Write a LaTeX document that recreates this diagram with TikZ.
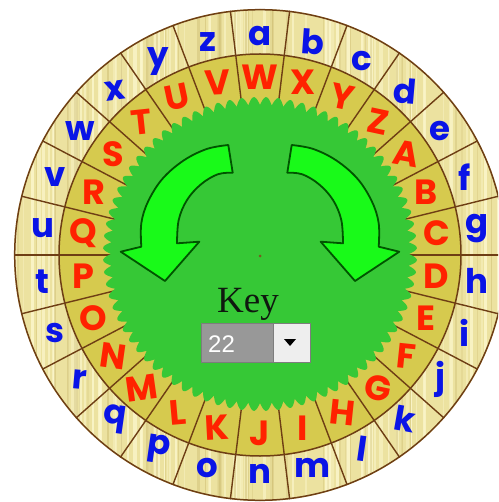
\documentclass[tikz,border=0pt]{standalone}
\usepackage{fontspec}
\setmainfont{Liberation Serif}
\newfontfamily\wheelfont{Poppins}
\newfontfamily\ddfont{Liberation Sans}
\definecolor{woodbase}{RGB}{236,226,160}
\definecolor{woodlight}{RGB}{252,247,205}
\definecolor{wooddark}{RGB}{200,182,105}
\definecolor{innerring}{RGB}{214,202,78}
\definecolor{divbrown}{RGB}{110,62,20}
\definecolor{centergreen}{RGB}{54,200,54}
\definecolor{arrowgreen}{RGB}{25,250,25}
\definecolor{arrowedge}{RGB}{0,85,0}
\definecolor{letterblue}{RGB}{10,20,230}
\definecolor{letterred}{RGB}{255,34,0}
\definecolor{ddgray}{RGB}{152,152,152}
\definecolor{ddlight}{RGB}{238,238,238}
\definecolor{ddedge}{RGB}{125,125,125}
\definecolor{keyink}{RGB}{15,25,15}
\definecolor{dotbrown}{RGB}{120,90,30}
\begin{document}
\begin{tikzpicture}[x=1pt,y=-1pt,
  divider/.style={draw=divbrown,line width=1.4pt},
  ringline/.style={draw=divbrown,line width=1.5pt},
  bigarrow/.style={fill=arrowgreen,draw=arrowedge,line width=1.8pt,line join=round},
  outerletter/.style={font=\wheelfont\bfseries\fontsize{34}{34}\selectfont,text=letterblue,inner sep=0pt},
  innerletter/.style={font=\wheelfont\bfseries\fontsize{35}{35}\selectfont,text=letterred,inner sep=0pt},
  keytext/.style={font=\fontsize{37}{37}\selectfont,text=keyink,inner sep=0pt},
  ddval/.style={fill=ddgray,draw=ddedge,line width=0.8pt,inner sep=0pt},
  ddbtn/.style={fill=ddlight,draw=ddedge,line width=0.8pt,inner sep=0pt},
  ddtext/.style={font=\ddfont\fontsize{24}{24}\selectfont,text=white,inner sep=0pt}]
\useasboundingbox (0,0) rectangle (498,502);
\clip (0,0) rectangle (498,502);
\fill[white] (0,0) rectangle (498,502);
% outer wooden ring
\begin{scope}
  \clip (260,255) circle[radius=246];
  \fill[woodbase] (0,0) rectangle (520,502);
  \pgfmathsetseed{7}
  \foreach \i in {0,...,80}{
    \pgfmathsetmacro\xx{14+rnd*492}
    \pgfmathsetmacro\oo{0.35+0.5*rnd}
    \pgfmathsetmacro\ww{1+3*rnd}
    \draw[woodlight,opacity=\oo,line width=\ww pt] (\xx,0) -- (\xx,502);
  }
  \foreach \i in {0,...,50}{
    \pgfmathsetmacro\xx{14+rnd*492}
    \pgfmathsetmacro\oo{0.15+0.3*rnd}
    \pgfmathsetmacro\ww{0.6+1.5*rnd}
    \draw[wooddark,opacity=\oo,line width=\ww pt] (\xx,0) -- (\xx,502);
  }
\end{scope}
% inner ring
\fill[innerring] (260,255) circle[radius=201];
% dividers
\foreach \k in {0,...,25}{
  \pgfmathsetmacro\a{-90+(\k+0.5)*360/26}
  \draw[divider] ({260+145*cos(\a)},{255+145*sin(\a)}) -- ({260+246*cos(\a)},{255+246*sin(\a)});
}
\draw[ringline] (260,255) circle[radius=201];
\draw[ringline] (260,255) circle[radius=245.3];
% green centre with scalloped edge
\fill[centergreen] plot[domain=0:360,samples=721,variable=\t]
  ({260+(149+8*abs(sin(40*\t)))*cos(\t)},{254+(149+8*abs(sin(40*\t)))*sin(\t)}) -- cycle;
% curved arrows
\foreach \s/\o in {1/0,-1/520}{
  \begin{scope}[shift={(\o,0)},xscale=\s]
    \draw[bigarrow] plot[smooth,tension=0.6] coordinates {(228.3,145) (206.7,149) (183.3,160.7) (162.3,179) (148,201.7) (141.3,223.3) (141.3,246.7)}
      -- (120.7,251.7) -- (165,281) -- (199.3,241.7) -- (177,243.3)
      -- plot[smooth,tension=0.6] coordinates {(177,243.3) (178.7,220) (187,200) (201,184.3) (217.7,174.3) (232.7,172.7)}
      -- cycle;
  \end{scope}
}
\fill[dotbrown] (260,256) circle[radius=1.5];
% outer letters
\foreach \l/\t [count=\k from 0] in {a/0,b/-4,c/0,d/-5,e/0,f/0,g/0,h/0,i/0,j/0,k/-10,l/-8,m/0,n/0,o/0,p/-8,q/-8,r/-5,s/0,t/0,u/0,v/0,w/0,x/8,y/0,z/0}{
  \pgfmathsetmacro\a{-90+\k*360/26}
  \node[outerletter,rotate=\t] (lo\k) at ({260+219*cos(\a)},{255+219*sin(\a)}) {\l};
}
% inner letters
\foreach \l/\t [count=\k from 0] in {W/0,X/0,Y/-12,Z/-12,A/-10,B/0,C/0,D/0,E/0,F/-6,G/-12,H/-6,I/0,J/0,K/3,L/5,M/8,N/-8,O/0,P/0,Q/0,R/0,S/0,T/6,U/12,V/3}{
  \pgfmathsetmacro\a{-90+\k*360/26}
  \node[innerletter,rotate=\t] (li\k) at ({260+178*cos(\a)},{255+178*sin(\a)}) {\l};
}
% key label and dropdown
\node[keytext,anchor=base] (key) at (248,312) {Key};
\node[ddval,minimum width=72pt,minimum height=39pt] (ddv) at (237,342.5) {};
\node[ddbtn,minimum width=37pt,minimum height=39pt] (ddb) at (291.5,342.5) {};
\node[ddtext,anchor=base west] (ddn) at (208,352) {22};
\fill[black] (284,339) -- (296,339) -- (290,346) -- cycle;
\end{tikzpicture}
\end{document}
